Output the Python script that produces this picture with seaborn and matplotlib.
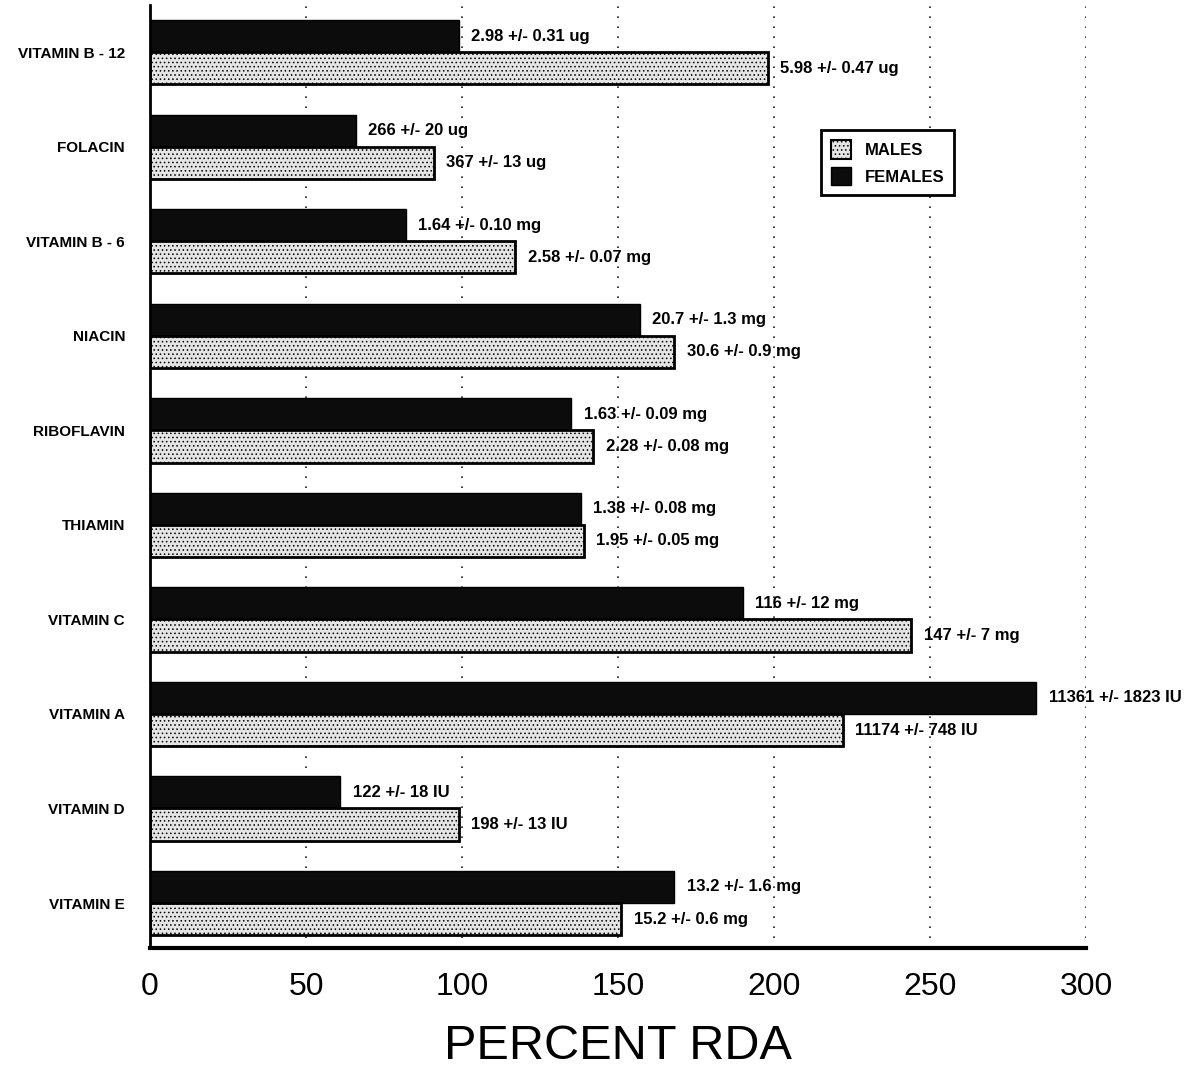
import numpy as np
import pandas as pd
import matplotlib
matplotlib.use("Agg")
import matplotlib.pyplot as plt
from matplotlib.patches import Patch
import seaborn as sns

# ---- data ----
nutrients = ["VITAMIN B - 12", "FOLACIN", "VITAMIN B - 6", "NIACIN", "RIBOFLAVIN",
             "THIAMIN", "VITAMIN C", "VITAMIN A", "VITAMIN D", "VITAMIN E"]
females_pct = [99, 66, 82, 157, 135, 138, 190, 284, 61, 168]
males_pct = [198, 91, 117, 168, 142, 139, 244, 222, 99, 151]
females_txt = ["2.98 +/- 0.31 ug", "266 +/- 20 ug", "1.64 +/- 0.10 mg", "20.7 +/- 1.3 mg",
               "1.63 +/- 0.09 mg", "1.38 +/- 0.08 mg", "116 +/- 12 mg", "11361 +/- 1823 IU",
               "122 +/- 18 IU", "13.2 +/- 1.6 mg"]
males_txt = ["5.98 +/- 0.47 ug", "367 +/- 13 ug", "2.58 +/- 0.07 mg", "30.6 +/- 0.9 mg",
             "2.28 +/- 0.08 mg", "1.95 +/- 0.05 mg", "147 +/- 7 mg", "11174 +/- 748 IU",
             "198 +/- 13 IU", "15.2 +/- 0.6 mg"]
groups = ["FEMALES", "MALES"]
x_ticks = [0, 50, 100, 150, 200, 250, 300]

df = pd.DataFrame({
    "nutrient": nutrients * 2,
    "pct": females_pct + males_pct,
    "sex": ["FEMALES"] * len(nutrients) + ["MALES"] * len(nutrients),
})

sns.set_style("white")
plt.rcParams["font.family"] = ["Liberation Sans", "DejaVu Sans"]
plt.rcParams["hatch.linewidth"] = 0.6
for k in ["text.color", "axes.labelcolor", "xtick.color", "ytick.color"]:
    plt.rcParams[k] = "black"

W, H = 1197, 1070
fig = plt.figure(figsize=(W / 100, H / 100), dpi=100)
ax = fig.add_axes([150 / W, 1 - 948 / H, (1086 - 150) / W, (948 - 5) / H])

fem_color = "#0c0c0c"
male_color = "#e4e4e4"
sns.barplot(data=df, y="nutrient", x="pct", hue="sex", hue_order=groups,
            order=nutrients, orient="h", palette=[fem_color, male_color],
            width=0.68, ax=ax, legend=False, saturation=1)

for bar in ax.containers[0]:
    bar.set_edgecolor("black")
    bar.set_linewidth(1.0)
for bar in ax.containers[1]:
    bar.set_edgecolor("black")
    bar.set_linewidth(2.0)
    bar.set_hatch("....")

lab_kw = dict(padding=9, fontsize=12, fontweight="bold", color="black")
ax.bar_label(ax.containers[0], labels=females_txt, **lab_kw)
ax.bar_label(ax.containers[1], labels=males_txt, **lab_kw)

ax.set_xlim(0, 300)
ax.set_ylim(9.476, -0.5)
ax.set_xticks(x_ticks)
ax.set_xticklabels([str(t) for t in x_ticks], fontsize=23)
ax.tick_params(axis="x", direction="out", length=9, width=2, pad=8, color="black")
ax.tick_params(axis="y", length=0, pad=18)
for t in ax.get_yticklabels():
    t.set_fontsize(11)
    t.set_fontweight("bold")
    t.set_color("black")

ax.set_xlabel("PERCENT RDA", fontsize=35, labelpad=16)
ax.set_ylabel("")

for x in x_ticks[1:]:
    ax.axvline(x, color="#222222", linestyle=(0, (1, 5)), linewidth=1.2, zorder=0)

for s in ["top", "right"]:
    ax.spines[s].set_visible(False)
ax.spines["left"].set_linewidth(2)
ax.spines["left"].set_color("black")
ax.spines["bottom"].set_linewidth(3)
ax.spines["bottom"].set_color("black")

handles = [Patch(facecolor=male_color, edgecolor="black", hatch="....", linewidth=1.5),
           Patch(facecolor=fem_color, edgecolor="black")]
leg = ax.legend(handles, ["MALES", "FEMALES"], loc="upper left",
                bbox_to_anchor=((813 - 150) / 936, (948 - 122) / 943),
                frameon=True, fancybox=False, framealpha=1, edgecolor="black",
                prop={"weight": "bold", "size": 12}, handlelength=1.2, handleheight=1.3,
                borderpad=0.6, labelspacing=0.5, handletextpad=0.8)
leg.get_frame().set_linewidth(2)
for t in leg.get_texts():
    t.set_color("black")

fig.savefig("out.png", dpi=100)
